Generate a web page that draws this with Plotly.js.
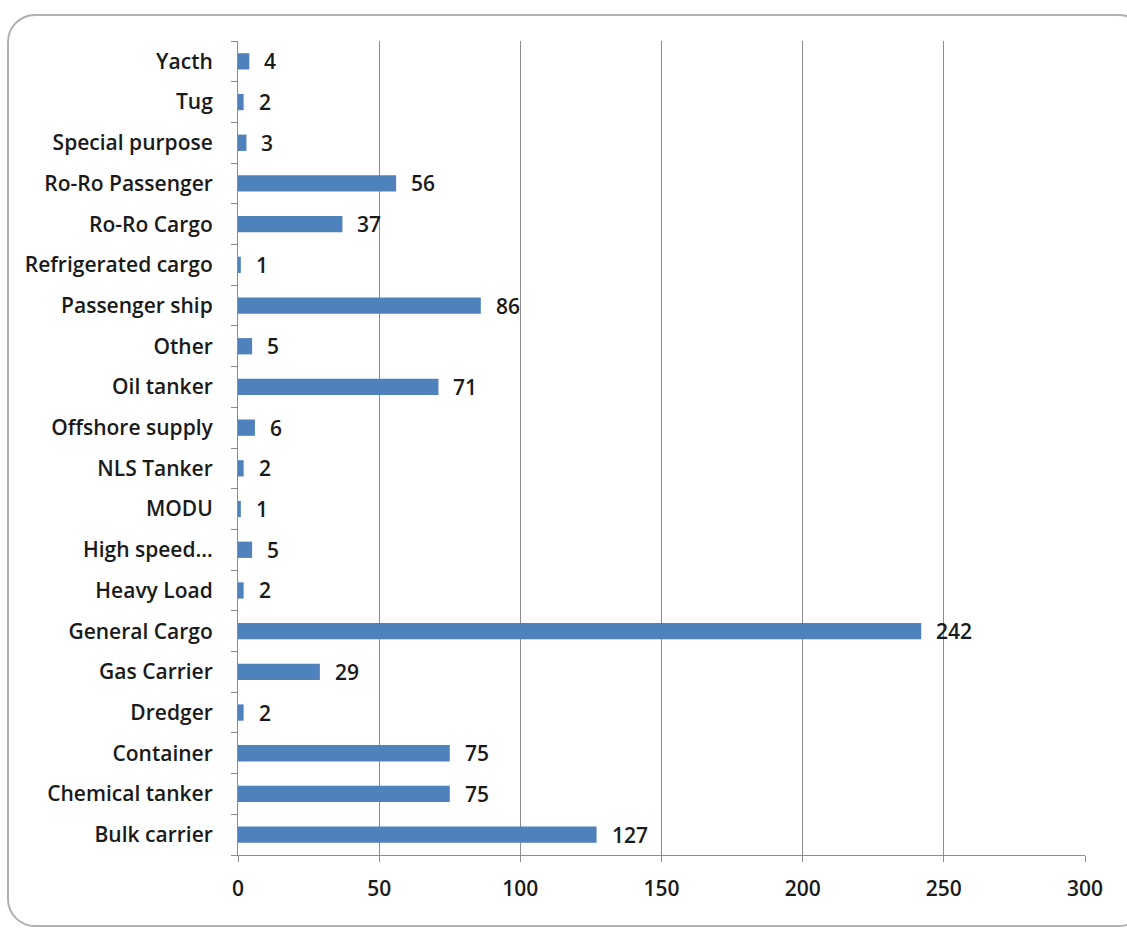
<!DOCTYPE html>
<html>
<head>
<meta charset="utf-8">
<script src="https://cdn.plot.ly/plotly-3.0.1.min.js"></script>
<style>
html,body{margin:0;padding:0;background:#fff;}
#frame{position:absolute;left:7px;top:14px;width:1140px;height:913px;border:2px solid #b0b0b0;border-radius:28px;box-sizing:border-box;}
#chart{position:absolute;left:0;top:0;width:1127px;height:932px;}
</style>
</head>
<body>
<div id="frame"></div>
<div id="chart"></div>
<script>
const categories = ["Bulk carrier","Chemical tanker","Container","Dredger","Gas Carrier","General Cargo","Heavy Load","High speed...","MODU","NLS Tanker","Offshore supply","Oil tanker","Other","Passenger ship","Refrigerated cargo","Ro-Ro Cargo","Ro-Ro Passenger","Special purpose","Tug","Yacth"];
const values = [127,75,75,2,29,242,2,5,1,2,6,71,5,86,1,37,56,3,2,4];
const xTicks = [0,50,100,150,200,250,300];

const fontFam = "'Open Sans', Lato, sans-serif";
const fontSize = 21;
const fontWeight = 600;
const mkFont = () => ({family: fontFam, size: fontSize, color: '#1a1a1a', weight: fontWeight});
const trace = {
  type: 'bar',
  orientation: 'h',
  x: values,
  y: categories,
  marker: {color: '#4F81BD'},
  hoverinfo: 'x+y'
};
const annotations = categories.map((c, i) => ({
  x: values[i], y: c, xref: 'x', yref: 'y',
  text: String(values[i]), showarrow: false,
  xanchor: 'left', xshift: 13,
  font: mkFont()
}));
const layout = {
  width: 1127, height: 932,
  margin: {l: 238, r: 42, t: 41, b: 77},
  paper_bgcolor: 'rgba(0,0,0,0)',
  plot_bgcolor: 'rgba(0,0,0,0)',
  bargap: 0.6,
  showlegend: false,
  font: mkFont(),
  xaxis: {
    range: [0, 300],
    tickvals: xTicks,
    ticktext: xTicks.map(String),
    showgrid: true, gridcolor: '#8c8c8c', gridwidth: 1,
    zeroline: false,
    showline: true, linecolor: '#8c8c8c', linewidth: 1,
    ticks: 'outside', ticklen: 6, tickcolor: '#8c8c8c',
    ticklabelstandoff: 9,
    tickfont: mkFont(),
    fixedrange: true
  },
  yaxis: {
    type: 'category',
    categoryorder: 'array', categoryarray: categories,
    showgrid: false, zeroline: false,
    showline: true, linecolor: '#8c8c8c', linewidth: 1,
    ticks: 'outside', ticklen: 6, tickcolor: '#8c8c8c',
    tickson: 'boundaries',
    ticklabelstandoff: 20,
    tickfont: mkFont(),
    fixedrange: true
  },
  annotations: annotations
};
Plotly.newPlot('chart', [trace], layout, {displayModeBar: false, staticPlot: true});
</script>
</body>
</html>
